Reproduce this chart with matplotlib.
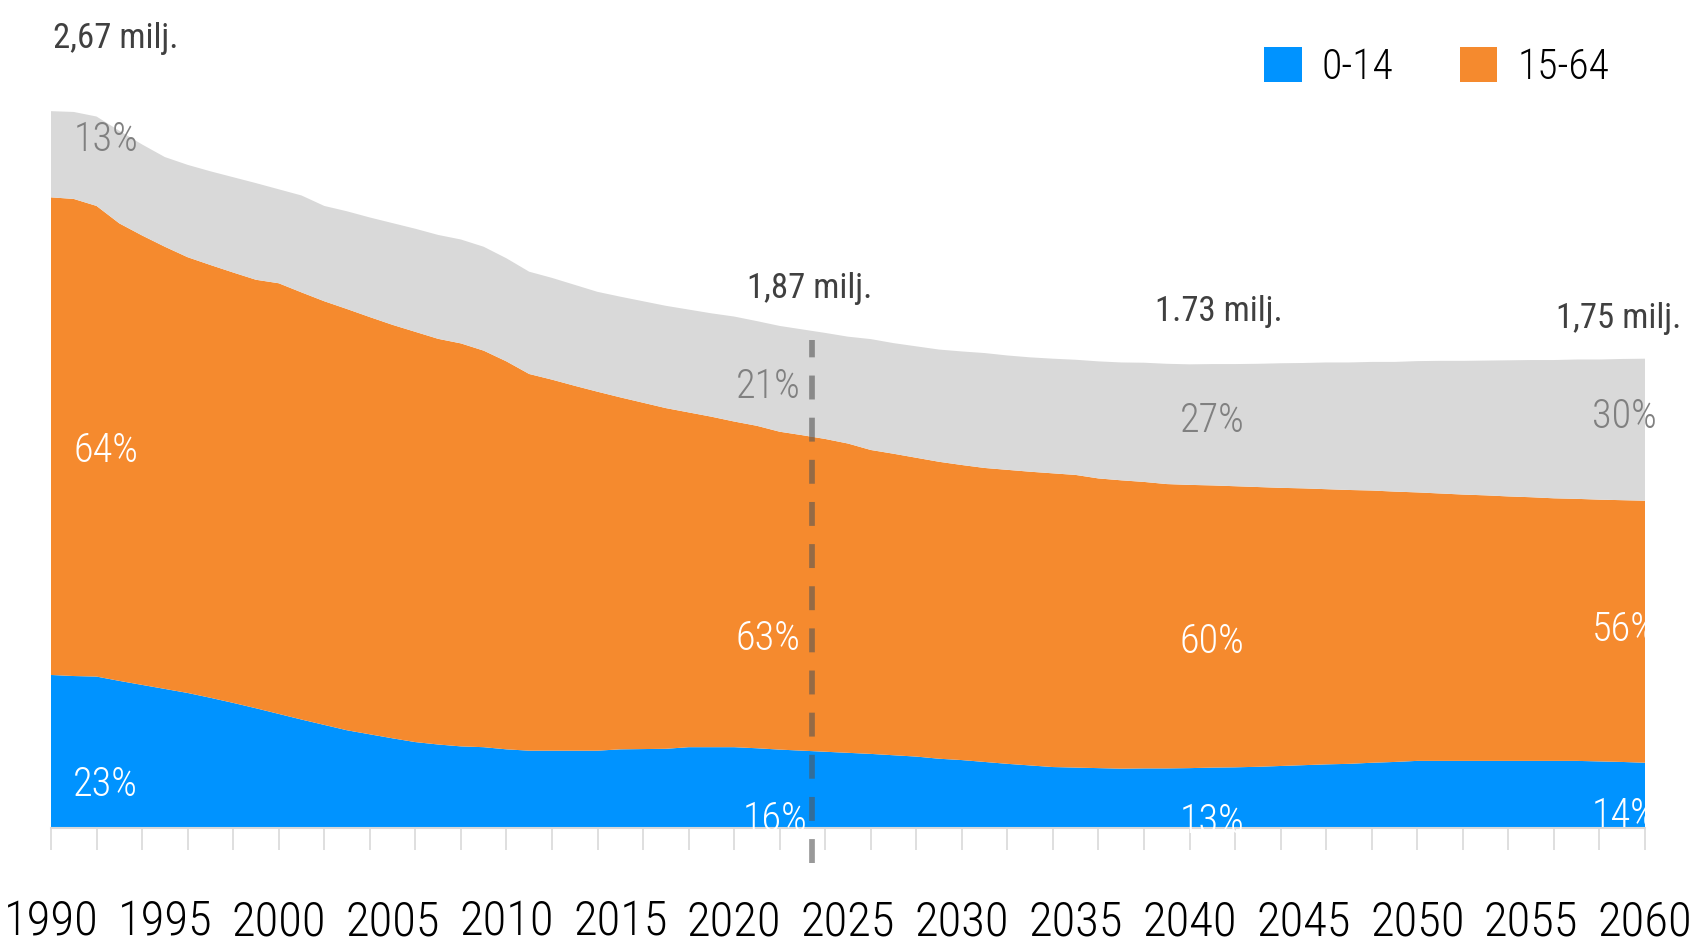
import matplotlib
matplotlib.use("Agg")
import matplotlib.pyplot as plt
from matplotlib.patches import Patch

# Population by age group, millions
YEARS = list(range(1990, 2061))

AGE_0_14 = [
    0.570, 0.566, 0.564, 0.548, 0.533, 0.518, 0.503, 0.485, 0.466, 0.446,
    0.425, 0.404, 0.384, 0.364, 0.349, 0.334, 0.320, 0.311, 0.304, 0.301,
    0.293, 0.288, 0.288, 0.288, 0.288, 0.293, 0.294, 0.295, 0.301, 0.301,
    0.301, 0.297, 0.292, 0.288, 0.284, 0.280, 0.276, 0.271, 0.266, 0.258,
    0.253, 0.246, 0.239, 0.233, 0.227, 0.225, 0.223, 0.221, 0.222, 0.222,
    0.223, 0.225, 0.226, 0.228, 0.231, 0.234, 0.237, 0.239, 0.243, 0.246,
    0.250, 0.250, 0.250, 0.250, 0.250, 0.250, 0.250, 0.250, 0.248, 0.246,
    0.243,
]
AGE_15_64 = [
    1.779, 1.777, 1.753, 1.704, 1.674, 1.647, 1.623, 1.612, 1.603, 1.596,
    1.604, 1.591, 1.578, 1.569, 1.554, 1.540, 1.528, 1.511, 1.501, 1.477,
    1.445, 1.403, 1.382, 1.359, 1.337, 1.311, 1.290, 1.269, 1.247, 1.231,
    1.213, 1.201, 1.184, 1.175, 1.165, 1.152, 1.132, 1.123, 1.113, 1.106,
    1.099, 1.095, 1.095, 1.094, 1.094, 1.090, 1.079, 1.074, 1.067, 1.059,
    1.055, 1.051, 1.047, 1.042, 1.036, 1.031, 1.025, 1.020, 1.014, 1.007,
    1.000, 0.996, 0.992, 0.989, 0.985, 0.982, 0.978, 0.976, 0.975, 0.975,
    0.976,
]
AGE_65 = [
    0.321, 0.324, 0.333, 0.345, 0.339, 0.334, 0.344, 0.349, 0.355, 0.360,
    0.350, 0.361, 0.355, 0.364, 0.371, 0.379, 0.384, 0.387, 0.387, 0.387,
    0.384, 0.381, 0.379, 0.376, 0.372, 0.375, 0.378, 0.381, 0.383, 0.385,
    0.391, 0.390, 0.394, 0.394, 0.395, 0.398, 0.413, 0.412, 0.415, 0.418,
    0.423, 0.428, 0.426, 0.426, 0.427, 0.429, 0.436, 0.439, 0.444, 0.448,
    0.449, 0.452, 0.455, 0.459, 0.464, 0.467, 0.472, 0.475, 0.479, 0.483,
    0.489, 0.494, 0.498, 0.502, 0.507, 0.511, 0.515, 0.519, 0.522, 0.526,
    0.529,
]

LEGEND_LABELS = ["0-14", "15-64"]
TICK_YEARS = list(range(1990, 2061, 5))
FORECAST_START = 2023.4

# total labels: (year, text)
TOTAL_LABELS = [(1990, "2,67 milj."), (2023, "1,87 milj."), (2040, "1.73 milj."), (2060, "1,75 milj.")]
# share labels per column: (year, 0-14, 15-64, 65+)
SHARE_LABELS = [
    (1990, "23%", "64%", "13%"),
    (2023, "16%", "63%", "21%"),
    (2040, "13%", "60%", "27%"),
    (2060, "14%", "56%", "30%"),
]

BLUE = "#0093FF"
ORANGE = "#F58A2E"
GREY = "#D9D9D9"

FONT = ["Roboto Condensed", "Liberation Sans Narrow", "DejaVu Sans"]
plt.rcParams["font.family"] = FONT

fig = plt.figure(figsize=(16.95, 9.43), dpi=100)
ax = fig.add_axes([51 / 1695, 1 - 828 / 943, 1594 / 1695, 828 / 943])

ax.stackplot(YEARS, AGE_0_14, AGE_15_64, AGE_65,
             colors=[BLUE, ORANGE, GREY], linewidth=0)

ax.set_xlim(1990, 2060)
ax.set_ylim(0, 3.084)
ax.set_yticks([])
for side in ["left", "right", "top"]:
    ax.spines[side].set_visible(False)
ax.spines["bottom"].set_color("#D9D9D9")
ax.spines["bottom"].set_linewidth(1.5)

# labels every 5 years, tick marks every 2 years
ax.xaxis.remove_overlapping_locs = False
ax.set_xticks(TICK_YEARS)
ax.set_xticks(list(range(1990, 2061, 2)), minor=True)
ax.tick_params(axis="x", which="major", length=0, pad=51, labelsize=35, labelcolor="black")
ax.tick_params(axis="x", which="minor", length=16, width=1.2, color="#D9D9D9")
for lab in ax.get_xticklabels():
    lab.set_fontweight("light")

# forecast marker
ax.axvline(FORECAST_START, ymin=-0.042, ymax=0.589, color="#555555", alpha=0.6,
           lw=4.1, dashes=(4.2, 3.2), clip_on=False, zorder=5)

# total population labels
pos = {1990: (1990.1, 2.905, "left"), 2023: (2023.3, 1.974, "center"),
       2040: (2041.3, 1.888, "center"), 2060: (2061.6, 1.862, "right")}
for yr, txt in TOTAL_LABELS:
    x, y, ha = pos[yr]
    ax.text(x, y, txt, ha=ha, va="baseline", fontsize=25, color="#404040",
            fontweight="normal", clip_on=False)

# share labels
col_x = {1990: (1992.4, 1992.4), 2023: (2021.8, 2021.5), 2040: (2041.0, 2041.0), 2060: (2059.1, 2059.1)}
col_y = {1990: (0.160, 1.404, 2.564), 2023: (0.030, 0.704, 1.644),
         2040: (0.022, 0.693, 1.515), 2060: (0.045, 0.737, 1.531)}
for yr, young, work, old in SHARE_LABELS:
    xb, xo = col_x[yr]
    yb, yo, yg = col_y[yr]
    kw = dict(ha="center", va="center", fontsize=29, fontweight="light")
    ax.text(xb, yb, young, color="white", **kw)
    ax.text(xo, yo, work, color="white", **kw)
    ax.text(xo, yg, old, color="#808080", **kw)

handles = [Patch(facecolor=BLUE, edgecolor="none"), Patch(facecolor=ORANGE, edgecolor="none")]
fig.legend(handles, LEGEND_LABELS, ncol=2, loc="center left",
           bbox_to_anchor=(1264 / 1695, 1 - 67.5 / 943), frameon=False,
           prop={"size": 30, "weight": "light"}, handlelength=0.9, handleheight=0.9,
           handletextpad=0.48, columnspacing=1.6, borderpad=0, borderaxespad=0)

fig.savefig("out.png", dpi=100)
